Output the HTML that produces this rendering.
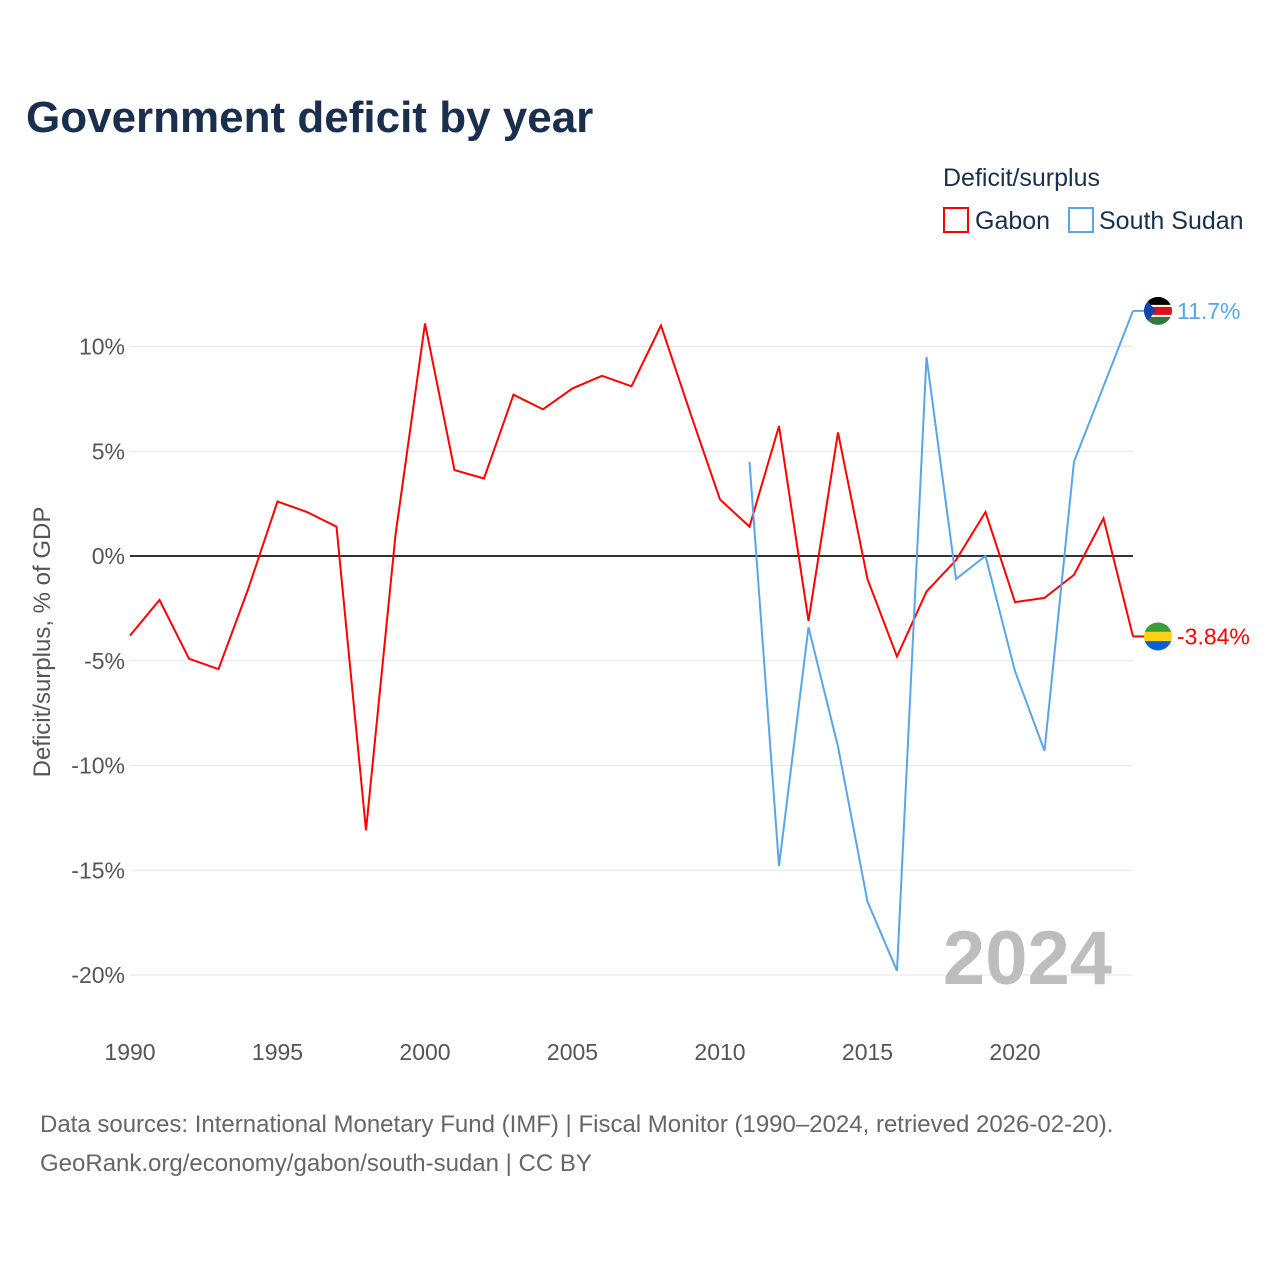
<!DOCTYPE html>
<html><head><meta charset="utf-8"><style>
body{margin:0;background:#fff;font-family:"Liberation Sans",sans-serif}
</style></head><body>
<svg id="c" width="1280" height="1280" style="display:block">
<rect width="1280" height="1280" fill="#fff"/>
<text x="26" y="132" font-size="44" font-weight="bold" fill="#1a2e4d">Government deficit by year</text>
<text x="943" y="186" font-size="25" fill="#1a2e4d">Deficit/surplus</text>
<g><rect x="944" y="208" width="24" height="24" fill="none" stroke="#ff0000" stroke-width="2"/><text x="975" y="229" font-size="25" fill="#1a2e4d">Gabon</text></g>
<g><rect x="1069" y="208" width="24" height="24" fill="none" stroke="#5aa5e8" stroke-width="2"/><text x="1099" y="229" font-size="25" fill="#1a2e4d">South Sudan</text></g>
<text transform="translate(50,642) rotate(-90)" text-anchor="middle" font-size="24" fill="#555">Deficit/surplus, % of GDP</text>
<g id="grid"></g><g id="series"></g>
<text x="1112" y="984" text-anchor="end" font-size="76" font-weight="bold" fill="#bdbdbd">2024</text>
<text x="40" y="1132" font-size="24" fill="#666">Data sources: International Monetary Fund (IMF) | Fiscal Monitor (1990–2024, retrieved 2026-02-20).</text>
<text x="40" y="1171" font-size="24" fill="#666">GeoRank.org/economy/gabon/south-sudan | CC BY</text>
</svg>
<script>
const yTicks=[10,5,0,-5,-10,-15,-20];
const xTicks=[1990,1995,2000,2005,2010,2015,2020];
const gabonYears=[1990,1991,1992,1993,1994,1995,1996,1997,1998,1999,2000,2001,2002,2003,2004,2005,2006,2007,2008,2009,2010,2011,2012,2013,2014,2015,2016,2017,2018,2019,2020,2021,2022,2023,2024];
const gabonVals=[-3.8,-2.1,-4.9,-5.4,-1.6,2.6,2.1,1.4,-13.1,1.0,11.1,4.1,3.7,7.7,7.0,8.0,8.6,8.1,11.0,6.8,2.7,1.4,6.2,-3.1,5.9,-1.1,-4.8,-1.7,-0.2,2.1,-2.2,-2.0,-0.9,1.8,-3.84];
const ssYears=[2011,2012,2013,2014,2015,2016,2017,2018,2019,2020,2021,2022,2023,2024];
const ssVals=[4.5,-14.8,-3.4,-9.1,-16.5,-19.8,9.5,-1.1,0,-5.5,-9.3,4.5,8.1,11.7];
const X=y=>130+(y-1990)*29.5, Y=v=>556-v*20.95;
const NS='http://www.w3.org/2000/svg';
function mk(t,a,p){const e=document.createElementNS(NS,t);for(const k in a)e.setAttribute(k,a[k]);p.appendChild(e);return e;}
const g=document.getElementById('grid'),s=document.getElementById('series');
yTicks.forEach(v=>{
 const l=mk('line',{x1:130,x2:1133,y1:Y(v),y2:Y(v),stroke:v==0?'#333':'#e6e6e6','stroke-width':v==0?2:1},g);
 
 
 const t=mk('text',{x:125,y:Y(v)+8,'text-anchor':'end','font-size':23,fill:'#555'},g);t.textContent=v+'%';
 
 
});
xTicks.forEach(y=>{
 const t=mk('text',{x:X(y),y:1060,'text-anchor':'middle','font-size':23,fill:'#555'},g);t.textContent=y;
 
 
});
function flag(cx,cy,id,stripes,tri){
 const d=mk('defs',{},s);const cp=mk('clipPath',{id:id},d);mk('circle',{cx:cx,cy:cy,r:14},cp);
 const fg=mk('g',{'clip-path':'url(#'+id+')'},s);
 
 
 let y=cy-14;stripes.forEach(([c,h])=>{mk('rect',{x:cx-14,y:y,width:28,height:h+0.5,fill:c},fg);y+=h;});
 if(tri)mk('polygon',{points:(cx-14)+','+(cy-14)+' '+(cx-2)+','+cy+' '+(cx-14)+','+(cy+14),fill:'#0f47af'},fg);
}
function line(ys,vs,col,name,lab,fl){
 const p=mk('polyline',{points:ys.map((y,i)=>X(y)+','+Y(vs[i])).join(' '),fill:'none',stroke:col,'stroke-width':2},s);
 
 
 const v=vs[vs.length-1],x=X(ys[ys.length-1]);
 mk('line',{x1:x,x2:x+12,y1:Y(v),y2:Y(v),stroke:col,'stroke-width':2},s);
 fl(x+25,Y(v));
 const t=mk('text',{x:x+44,y:Y(v)+8,'font-size':23,fill:col},s);t.textContent=lab(v);
 
 
}
line(gabonYears,gabonVals,'#ff0000','gabon-line',v=>v.toFixed(2)+'%',(x,y)=>flag(x,y,'gabon-flag',[['#3a9e3a',9.33],['#fcd116',9.33],['#0b5ed7',9.34]],false));
line(ssYears,ssVals,'#5aa5e8','south-sudan-line',v=>v.toFixed(1)+'%',(x,y)=>flag(x,y,'south-sudan-flag',[['#000',8],['#fff',2],['#da121a',8],['#fff',2],['#2f7a3a',8]],true));
</script>
</body></html>
